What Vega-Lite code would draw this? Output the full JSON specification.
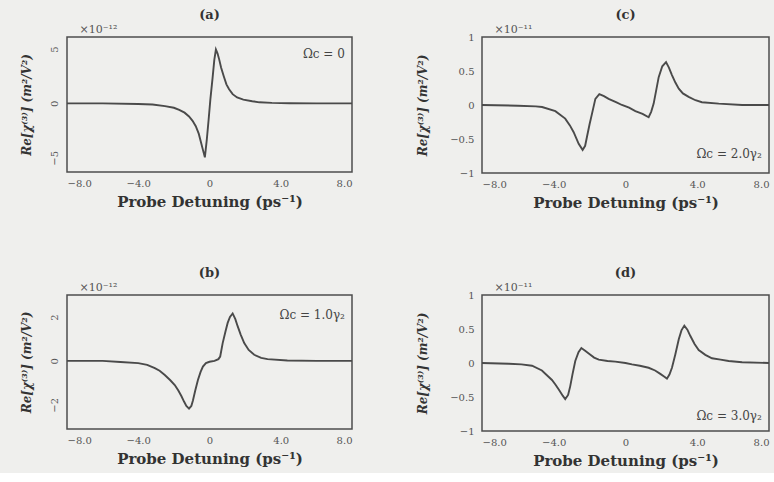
{
  "$schema": "https://vega.github.io/schema/vega-lite/v6.json",
  "background": "#efefed",
  "padding": {"left": 19, "top": 8, "right": 2, "bottom": 4},
  "datasets": {
    "a": [
      {"x": -8, "y": 0}, {"x": -6, "y": 0}, {"x": -4, "y": -0.05}, {"x": -3.2, "y": -0.1},
      {"x": -2.5, "y": -0.25}, {"x": -2.0, "y": -0.4}, {"x": -1.7, "y": -0.6}, {"x": -1.4, "y": -0.85},
      {"x": -1.15, "y": -1.2}, {"x": -0.95, "y": -1.6}, {"x": -0.77, "y": -2.1}, {"x": -0.6, "y": -2.8},
      {"x": -0.49, "y": -3.5}, {"x": -0.38, "y": -4.2}, {"x": -0.26, "y": -4.95}, {"x": -0.15, "y": -3.3},
      {"x": -0.05, "y": -1.5}, {"x": 0.05, "y": 0.4}, {"x": 0.17, "y": 2.3}, {"x": 0.27, "y": 4.0},
      {"x": 0.36, "y": 4.95}, {"x": 0.45, "y": 4.6}, {"x": 0.55, "y": 4.0}, {"x": 0.65, "y": 3.3},
      {"x": 0.8, "y": 2.5}, {"x": 0.95, "y": 1.75}, {"x": 1.1, "y": 1.3}, {"x": 1.3, "y": 0.85},
      {"x": 1.55, "y": 0.55}, {"x": 1.9, "y": 0.35}, {"x": 2.4, "y": 0.2}, {"x": 2.8, "y": 0.1},
      {"x": 3.5, "y": 0.05}, {"x": 4.5, "y": 0.02}, {"x": 6, "y": 0}, {"x": 8, "y": 0}
    ],
    "b": [
      {"x": -8, "y": 0}, {"x": -6, "y": 0}, {"x": -5, "y": -0.05}, {"x": -4, "y": -0.1},
      {"x": -3.5, "y": -0.18}, {"x": -3.07, "y": -0.33}, {"x": -2.8, "y": -0.45}, {"x": -2.51, "y": -0.64},
      {"x": -2.2, "y": -0.88}, {"x": -1.95, "y": -1.1}, {"x": -1.75, "y": -1.35}, {"x": -1.58, "y": -1.6},
      {"x": -1.43, "y": -1.85}, {"x": -1.3, "y": -2.05}, {"x": -1.15, "y": -2.17}, {"x": -1.02, "y": -2.05},
      {"x": -0.93, "y": -1.8}, {"x": -0.8, "y": -1.35}, {"x": -0.65, "y": -0.87}, {"x": -0.5, "y": -0.5},
      {"x": -0.37, "y": -0.26}, {"x": -0.2, "y": -0.1}, {"x": 0, "y": -0.04}, {"x": 0.28, "y": 0.0},
      {"x": 0.5, "y": 0.08}, {"x": 0.6, "y": 0.2}, {"x": 0.74, "y": 0.81}, {"x": 0.9, "y": 1.35},
      {"x": 1.02, "y": 1.73}, {"x": 1.15, "y": 2.0}, {"x": 1.3, "y": 2.16}, {"x": 1.45, "y": 1.9},
      {"x": 1.58, "y": 1.58}, {"x": 1.75, "y": 1.2}, {"x": 1.95, "y": 0.81}, {"x": 2.2, "y": 0.5},
      {"x": 2.51, "y": 0.28}, {"x": 2.9, "y": 0.14}, {"x": 3.26, "y": 0.08}, {"x": 4.37, "y": 0.02},
      {"x": 6, "y": 0}, {"x": 8, "y": 0}
    ],
    "c": [
      {"x": -8, "y": 0}, {"x": -6, "y": -0.01}, {"x": -5, "y": -0.02}, {"x": -4.65, "y": -0.03},
      {"x": -3.91, "y": -0.09}, {"x": -3.36, "y": -0.2}, {"x": -3.1, "y": -0.3}, {"x": -2.89, "y": -0.4},
      {"x": -2.61, "y": -0.57}, {"x": -2.39, "y": -0.66}, {"x": -2.25, "y": -0.6}, {"x": -2.15, "y": -0.47},
      {"x": -2.0, "y": -0.28}, {"x": -1.87, "y": -0.13}, {"x": -1.68, "y": 0.09}, {"x": -1.46, "y": 0.16},
      {"x": -1.2, "y": 0.13}, {"x": -0.94, "y": 0.09}, {"x": -0.5, "y": 0.04}, {"x": -0.2, "y": 0.0},
      {"x": 0.2, "y": -0.04}, {"x": 0.55, "y": -0.09}, {"x": 0.95, "y": -0.13}, {"x": 1.29, "y": -0.18},
      {"x": 1.43, "y": -0.1}, {"x": 1.57, "y": 0.02}, {"x": 1.7, "y": 0.2}, {"x": 1.85, "y": 0.41},
      {"x": 2.05, "y": 0.57}, {"x": 2.26, "y": 0.63}, {"x": 2.42, "y": 0.55}, {"x": 2.59, "y": 0.44},
      {"x": 2.78, "y": 0.33}, {"x": 2.97, "y": 0.24}, {"x": 3.2, "y": 0.17}, {"x": 3.52, "y": 0.12},
      {"x": 3.9, "y": 0.07}, {"x": 4.26, "y": 0.04}, {"x": 5.2, "y": 0.02}, {"x": 6.5, "y": 0.0},
      {"x": 8, "y": 0}
    ],
    "d": [
      {"x": -8, "y": 0}, {"x": -6.5, "y": -0.01}, {"x": -5.8, "y": -0.02}, {"x": -5.21, "y": -0.04},
      {"x": -4.66, "y": -0.11}, {"x": -4.1, "y": -0.25}, {"x": -3.9, "y": -0.32}, {"x": -3.72, "y": -0.39},
      {"x": -3.5, "y": -0.48}, {"x": -3.36, "y": -0.53}, {"x": -3.2, "y": -0.47}, {"x": -3.08, "y": -0.34},
      {"x": -2.95, "y": -0.16}, {"x": -2.8, "y": 0.03}, {"x": -2.62, "y": 0.16}, {"x": -2.46, "y": 0.22},
      {"x": -2.25, "y": 0.18}, {"x": -2.05, "y": 0.14}, {"x": -1.75, "y": 0.08}, {"x": -1.49, "y": 0.05},
      {"x": -1.0, "y": 0.03}, {"x": -0.57, "y": 0.02}, {"x": 0, "y": 0.0}, {"x": 0.36, "y": -0.02},
      {"x": 0.8, "y": -0.04}, {"x": 1.29, "y": -0.07}, {"x": 1.65, "y": -0.11}, {"x": 1.94, "y": -0.16},
      {"x": 2.15, "y": -0.2}, {"x": 2.31, "y": -0.23}, {"x": 2.45, "y": -0.17}, {"x": 2.59, "y": -0.07},
      {"x": 2.78, "y": 0.13}, {"x": 2.97, "y": 0.35}, {"x": 3.12, "y": 0.48}, {"x": 3.28, "y": 0.55},
      {"x": 3.45, "y": 0.49}, {"x": 3.61, "y": 0.4}, {"x": 3.85, "y": 0.28}, {"x": 4.08, "y": 0.19},
      {"x": 4.45, "y": 0.12}, {"x": 4.82, "y": 0.07}, {"x": 5.3, "y": 0.05}, {"x": 5.75, "y": 0.03},
      {"x": 6.5, "y": 0.01}, {"x": 8, "y": 0}
    ]
  },
  "vconcat": [
    {
      "hconcat": [
        {
          "width": 285, "height": 135,
          "title": {"text": "(a)"},
          "layer": [
            {
              "data": {"name": "a"},
              "mark": {"type": "line", "color": "#4a4a4a", "strokeWidth": 1.9},
              "encoding": {
                "x": {"field": "x", "type": "quantitative", "scale": {"domain": [-8, 8], "nice": false, "zero": false},
                  "axis": {"title": "Probe Detuning (ps⁻¹)", "values": [-8, -4, 0, 4, 8], "labelExpr": "datum.value == 0 ? '0' : format(datum.value, '.1f')"}},
                "y": {"field": "y", "type": "quantitative", "scale": {"domain": [-6.3, 6.1], "nice": false},
                  "axis": {"title": "Re[χ⁽³⁾] (m²/V²)", "values": [-5, 0, 5], "labelAngle": -90, "labelPadding": 8, "titlePadding": 16}}
              }
            },
            {
              "data": {"values": [{"label": "×10⁻¹²"}]},
              "mark": {"type": "text", "align": "left", "baseline": "bottom", "dy": -2, "fontSize": 11, "color": "#555", "font": "DejaVu Serif"},
              "encoding": {
                "x": {"datum": -7.3, "axis": {"title": "Probe Detuning (ps⁻¹)", "values": [-8, -4, 0, 4, 8], "labelExpr": "datum.value == 0 ? '0' : format(datum.value, '.1f')"}},
                "y": {"datum": 6.1, "axis": {"title": "Re[χ⁽³⁾] (m²/V²)", "values": [-5, 0, 5], "labelAngle": -90, "labelPadding": 8, "titlePadding": 16}},
                "text": {"field": "label"}}
            },
            {
              "data": {"values": [{"label": "Ωc = 0"}]},
              "mark": {"type": "text", "align": "right", "baseline": "middle", "fontSize": 12, "color": "#444", "font": "DejaVu Serif"},
              "encoding": {
                "x": {"datum": 7.6, "axis": {"title": "Probe Detuning (ps⁻¹)", "values": [-8, -4, 0, 4, 8], "labelExpr": "datum.value == 0 ? '0' : format(datum.value, '.1f')"}},
                "y": {"datum": 4.5, "axis": {"title": "Re[χ⁽³⁾] (m²/V²)", "values": [-5, 0, 5], "labelAngle": -90, "labelPadding": 8, "titlePadding": 16}},
                "text": {"field": "label"}}
            }
          ]
        },
        {
          "width": 287, "height": 136,
          "title": {"text": "(c)"},
          "layer": [
            {
              "data": {"name": "c"},
              "mark": {"type": "line", "color": "#4a4a4a", "strokeWidth": 1.9},
              "encoding": {
                "x": {"field": "x", "type": "quantitative", "scale": {"domain": [-8, 8], "nice": false, "zero": false},
                  "axis": {"title": "Probe Detuning (ps⁻¹)", "values": [-8, -4, 0, 4, 8], "labelExpr": "datum.value == 0 ? '0' : format(datum.value, '.1f')"}},
                "y": {"field": "y", "type": "quantitative", "scale": {"domain": [-1, 1], "nice": false},
                  "axis": {"title": "Re[χ⁽³⁾] (m²/V²)", "values": [-1, -0.5, 0, 0.5, 1], "format": ".1~f", "labelPadding": 8, "titlePadding": 20, "labelOverlap": false}}
              }
            },
            {
              "data": {"values": [{"label": "×10⁻¹¹"}]},
              "mark": {"type": "text", "align": "left", "baseline": "bottom", "dy": -2, "fontSize": 11, "color": "#555", "font": "DejaVu Serif"},
              "encoding": {
                "x": {"datum": -7.3, "axis": {"title": "Probe Detuning (ps⁻¹)", "values": [-8, -4, 0, 4, 8], "labelExpr": "datum.value == 0 ? '0' : format(datum.value, '.1f')"}},
                "y": {"datum": 1, "axis": {"title": "Re[χ⁽³⁾] (m²/V²)", "values": [-1, -0.5, 0, 0.5, 1], "format": ".1~f", "labelPadding": 8, "titlePadding": 20, "labelOverlap": false}},
                "text": {"field": "label"}}
            },
            {
              "data": {"values": [{"label": "Ωc = 2.0γ₂"}]},
              "mark": {"type": "text", "align": "right", "baseline": "middle", "fontSize": 12, "color": "#444", "font": "DejaVu Serif"},
              "encoding": {
                "x": {"datum": 7.6, "axis": {"title": "Probe Detuning (ps⁻¹)", "values": [-8, -4, 0, 4, 8], "labelExpr": "datum.value == 0 ? '0' : format(datum.value, '.1f')"}},
                "y": {"datum": -0.72, "axis": {"title": "Re[χ⁽³⁾] (m²/V²)", "values": [-1, -0.5, 0, 0.5, 1], "format": ".1~f", "labelPadding": 8, "titlePadding": 20, "labelOverlap": false}},
                "text": {"field": "label"}}
            }
          ]
        }
      ],
      "spacing": 58
    },
    {
      "hconcat": [
        {
          "width": 285, "height": 134,
          "title": {"text": "(b)"},
          "layer": [
            {
              "data": {"name": "b"},
              "mark": {"type": "line", "color": "#4a4a4a", "strokeWidth": 1.9},
              "encoding": {
                "x": {"field": "x", "type": "quantitative", "scale": {"domain": [-8, 8], "nice": false, "zero": false},
                  "axis": {"title": "Probe Detuning (ps⁻¹)", "values": [-8, -4, 0, 4, 8], "labelExpr": "datum.value == 0 ? '0' : format(datum.value, '.1f')"}},
                "y": {"field": "y", "type": "quantitative", "scale": {"domain": [-3.1, 3.0], "nice": false},
                  "axis": {"title": "Re[χ⁽³⁾] (m²/V²)", "values": [-2, 0, 2], "labelAngle": -90, "labelPadding": 8, "titlePadding": 16}}
              }
            },
            {
              "data": {"values": [{"label": "×10⁻¹²"}]},
              "mark": {"type": "text", "align": "left", "baseline": "bottom", "dy": -2, "fontSize": 11, "color": "#555", "font": "DejaVu Serif"},
              "encoding": {
                "x": {"datum": -7.3, "axis": {"title": "Probe Detuning (ps⁻¹)", "values": [-8, -4, 0, 4, 8], "labelExpr": "datum.value == 0 ? '0' : format(datum.value, '.1f')"}},
                "y": {"datum": 3.0, "axis": {"title": "Re[χ⁽³⁾] (m²/V²)", "values": [-2, 0, 2], "labelAngle": -90, "labelPadding": 8, "titlePadding": 16}},
                "text": {"field": "label"}}
            },
            {
              "data": {"values": [{"label": "Ωc = 1.0γ₂"}]},
              "mark": {"type": "text", "align": "right", "baseline": "middle", "fontSize": 12, "color": "#444", "font": "DejaVu Serif"},
              "encoding": {
                "x": {"datum": 7.6, "axis": {"title": "Probe Detuning (ps⁻¹)", "values": [-8, -4, 0, 4, 8], "labelExpr": "datum.value == 0 ? '0' : format(datum.value, '.1f')"}},
                "y": {"datum": 2.1, "axis": {"title": "Re[χ⁽³⁾] (m²/V²)", "values": [-2, 0, 2], "labelAngle": -90, "labelPadding": 8, "titlePadding": 16}},
                "text": {"field": "label"}}
            }
          ]
        },
        {
          "width": 287, "height": 136,
          "title": {"text": "(d)"},
          "layer": [
            {
              "data": {"name": "d"},
              "mark": {"type": "line", "color": "#4a4a4a", "strokeWidth": 1.9},
              "encoding": {
                "x": {"field": "x", "type": "quantitative", "scale": {"domain": [-8, 8], "nice": false, "zero": false},
                  "axis": {"title": "Probe Detuning (ps⁻¹)", "values": [-8, -4, 0, 4, 8], "labelExpr": "datum.value == 0 ? '0' : format(datum.value, '.1f')"}},
                "y": {"field": "y", "type": "quantitative", "scale": {"domain": [-1, 1], "nice": false},
                  "axis": {"title": "Re[χ⁽³⁾] (m²/V²)", "values": [-1, -0.5, 0, 0.5, 1], "format": ".1~f", "labelPadding": 8, "titlePadding": 20, "labelOverlap": false}}
              }
            },
            {
              "data": {"values": [{"label": "×10⁻¹¹"}]},
              "mark": {"type": "text", "align": "left", "baseline": "bottom", "dy": -2, "fontSize": 11, "color": "#555", "font": "DejaVu Serif"},
              "encoding": {
                "x": {"datum": -7.3, "axis": {"title": "Probe Detuning (ps⁻¹)", "values": [-8, -4, 0, 4, 8], "labelExpr": "datum.value == 0 ? '0' : format(datum.value, '.1f')"}},
                "y": {"datum": 1, "axis": {"title": "Re[χ⁽³⁾] (m²/V²)", "values": [-1, -0.5, 0, 0.5, 1], "format": ".1~f", "labelPadding": 8, "titlePadding": 20, "labelOverlap": false}},
                "text": {"field": "label"}}
            },
            {
              "data": {"values": [{"label": "Ωc = 3.0γ₂"}]},
              "mark": {"type": "text", "align": "right", "baseline": "middle", "fontSize": 12, "color": "#444", "font": "DejaVu Serif"},
              "encoding": {
                "x": {"datum": 7.6, "axis": {"title": "Probe Detuning (ps⁻¹)", "values": [-8, -4, 0, 4, 8], "labelExpr": "datum.value == 0 ? '0' : format(datum.value, '.1f')"}},
                "y": {"datum": -0.78, "axis": {"title": "Re[χ⁽³⁾] (m²/V²)", "values": [-1, -0.5, 0, 0.5, 1], "format": ".1~f", "labelPadding": 8, "titlePadding": 20, "labelOverlap": false}},
                "text": {"field": "label"}}
            }
          ]
        }
      ],
      "spacing": 58
    }
  ],
  "spacing": 55,
  "config": {
    "font": "DejaVu Serif",
    "view": {"stroke": "#4d4d4d", "strokeWidth": 1.5},
    "axis": {
      "grid": false, "domain": false, "ticks": false,
      "labelFont": "DejaVu Serif", "labelFontSize": 10, "labelColor": "#555",
      "titleFont": "DejaVu Serif", "titleColor": "#333", "titleFontWeight": "bold"
    },
    "axisX": {"labelPadding": 6, "titlePadding": 6, "titleFontSize": 15},
    "axisY": {"titleFontStyle": "italic", "titleFontSize": 12},
    "title": {"font": "DejaVu Serif", "fontSize": 13, "fontWeight": "bold", "color": "#333", "offset": 2}
  }
}
